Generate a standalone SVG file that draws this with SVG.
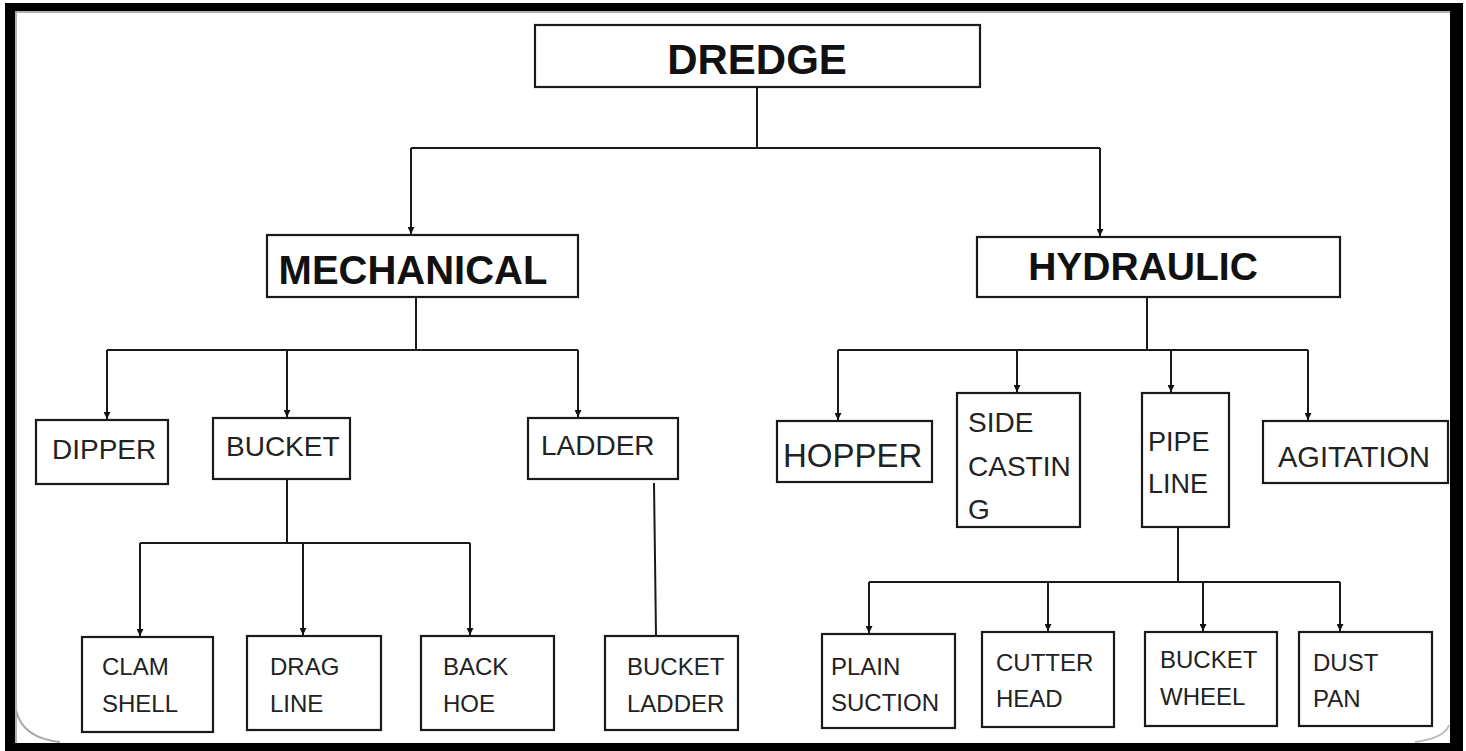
<svg xmlns="http://www.w3.org/2000/svg" width="1466" height="751" viewBox="0 0 1466 751">
<defs>
<marker id="arr" viewBox="0 0 10 10" refX="10" refY="5" markerWidth="7" markerHeight="7" markerUnits="userSpaceOnUse" orient="auto">
<path d="M0,0 L10,5 L0,10 z" fill="#111"/>
</marker>
<style>
.box{fill:#fff;stroke:#1a1a1a;stroke-width:2.2}
.big{font-family:"Liberation Sans",Arial,sans-serif;font-weight:bold;fill:#111}
.t{font-family:"Liberation Sans",Arial,sans-serif;fill:#222}
.c{fill:none;stroke:#1a1a1a;stroke-width:2}
.a{marker-end:url(#arr)}
</style>
</defs>
<rect x="0" y="0" width="1466" height="751" fill="#fff"/>
<g id="frame">
<path d="M5,3 H1463 V751 H5 Z M15,11 V743 H1450 V11 Z" fill="#000" fill-rule="evenodd"/>
<path d="M16,11 V743 M15,12 H1450" stroke="#999" stroke-width="1.5" fill="none"/>
<path d="M16,710 Q22,738 60,742" stroke="#aaa" stroke-width="2" fill="none"/>
<path d="M1449,725 Q1445,738 1415,742" stroke="#bbb" stroke-width="2" fill="none"/>
</g>
<g id="connectors">
<path class="c" d="M757,87 V148 M411,148 H1100"/>
<path class="c a" d="M411,148 V234"/>
<path class="c a" d="M1100,148 V236"/>
<path class="c" d="M416,297 V350 M107,350 H578"/>
<path class="c a" d="M107,350 V419"/>
<path class="c a" d="M287,350 V417"/>
<path class="c a" d="M578,350 V417"/>
<path class="c" d="M287,479 V543 M140,543 H470"/>
<path class="c a" d="M140,543 V636"/>
<path class="c a" d="M303,543 V635"/>
<path class="c a" d="M470,543 V635"/>
<path class="c" d="M654,483 L656,636"/>
<path class="c" d="M1147,297 V350 M838,350 H1308"/>
<path class="c a" d="M838,350 V420"/>
<path class="c a" d="M1017,350 V392"/>
<path class="c a" d="M1171,350 V392"/>
<path class="c a" d="M1308,350 V420"/>
<path class="c" d="M1178,527 V582 M869,582 H1340"/>
<path class="c a" d="M869,582 V633"/>
<path class="c a" d="M1048,582 V631"/>
<path class="c a" d="M1203,582 V631"/>
<path class="c a" d="M1340,582 V631"/>
</g>
<g id="dredge"><rect class="box" x="535" y="25" width="445" height="62"/><text class="big" x="757" y="74" font-size="42" text-anchor="middle">DREDGE</text></g>
<g id="mechanical"><rect class="box" x="267" y="235" width="311" height="62"/><text class="big" x="413" y="284" font-size="40" text-anchor="middle">MECHANICAL</text></g>
<g id="hydraulic"><rect class="box" x="977" y="237" width="363" height="60"/><text class="big" x="1143" y="280" font-size="39" text-anchor="middle">HYDRAULIC</text></g>
<g id="dipper"><rect class="box" x="36" y="420" width="132" height="64"/><text class="t" x="52" y="459" font-size="28">DIPPER</text></g>
<g id="bucket"><rect class="box" x="213" y="418" width="137" height="61"/><text class="t" x="226" y="456" font-size="28">BUCKET</text></g>
<g id="ladder"><rect class="box" x="528" y="418" width="150" height="61"/><text class="t" x="541" y="455" font-size="28">LADDER</text></g>
<g id="clamshell"><rect class="box" x="82" y="637" width="131" height="95"/><text class="t" x="102" y="675" font-size="24">CLAM</text><text class="t" x="102" y="712" font-size="24">SHELL</text></g>
<g id="dragline"><rect class="box" x="247" y="636" width="134" height="94"/><text class="t" x="270" y="675" font-size="24">DRAG</text><text class="t" x="270" y="712" font-size="24">LINE</text></g>
<g id="backhoe"><rect class="box" x="421" y="636" width="133" height="94"/><text class="t" x="443" y="675" font-size="24">BACK</text><text class="t" x="443" y="712" font-size="24">HOE</text></g>
<g id="bucketladder"><rect class="box" x="605" y="636" width="133" height="94"/><text class="t" x="627" y="675" font-size="24">BUCKET</text><text class="t" x="627" y="712" font-size="24">LADDER</text></g>
<g id="hopper"><rect class="box" x="777" y="421" width="155" height="61"/><text class="t" x="783" y="467" font-size="33">HOPPER</text></g>
<g id="sidecasting"><rect class="box" x="957" y="393" width="123" height="134"/><text class="t" x="968" y="432" font-size="28">SIDE</text><text class="t" x="968" y="476" font-size="28">CASTIN</text><text class="t" x="968" y="519" font-size="28">G</text></g>
<g id="pipeline"><rect class="box" x="1142" y="393" width="87" height="134"/><text class="t" x="1148" y="451" font-size="27">PIPE</text><text class="t" x="1148" y="493" font-size="27">LINE</text></g>
<g id="agitation"><rect class="box" x="1263" y="421" width="185" height="62"/><text class="t" x="1278" y="467" font-size="29">AGITATION</text></g>
<g id="plainsuction"><rect class="box" x="822" y="634" width="133" height="94"/><text class="t" x="831" y="675" font-size="24">PLAIN</text><text class="t" x="831" y="711" font-size="24">SUCTION</text></g>
<g id="cutterhead"><rect class="box" x="982" y="632" width="132" height="95"/><text class="t" x="996" y="671" font-size="24">CUTTER</text><text class="t" x="996" y="707" font-size="24">HEAD</text></g>
<g id="bucketwheel"><rect class="box" x="1145" y="632" width="132" height="94"/><text class="t" x="1160" y="668" font-size="24">BUCKET</text><text class="t" x="1160" y="705" font-size="24">WHEEL</text></g>
<g id="dustpan"><rect class="box" x="1299" y="632" width="133" height="94"/><text class="t" x="1313" y="671" font-size="24">DUST</text><text class="t" x="1313" y="707" font-size="24">PAN</text></g>
</svg>
